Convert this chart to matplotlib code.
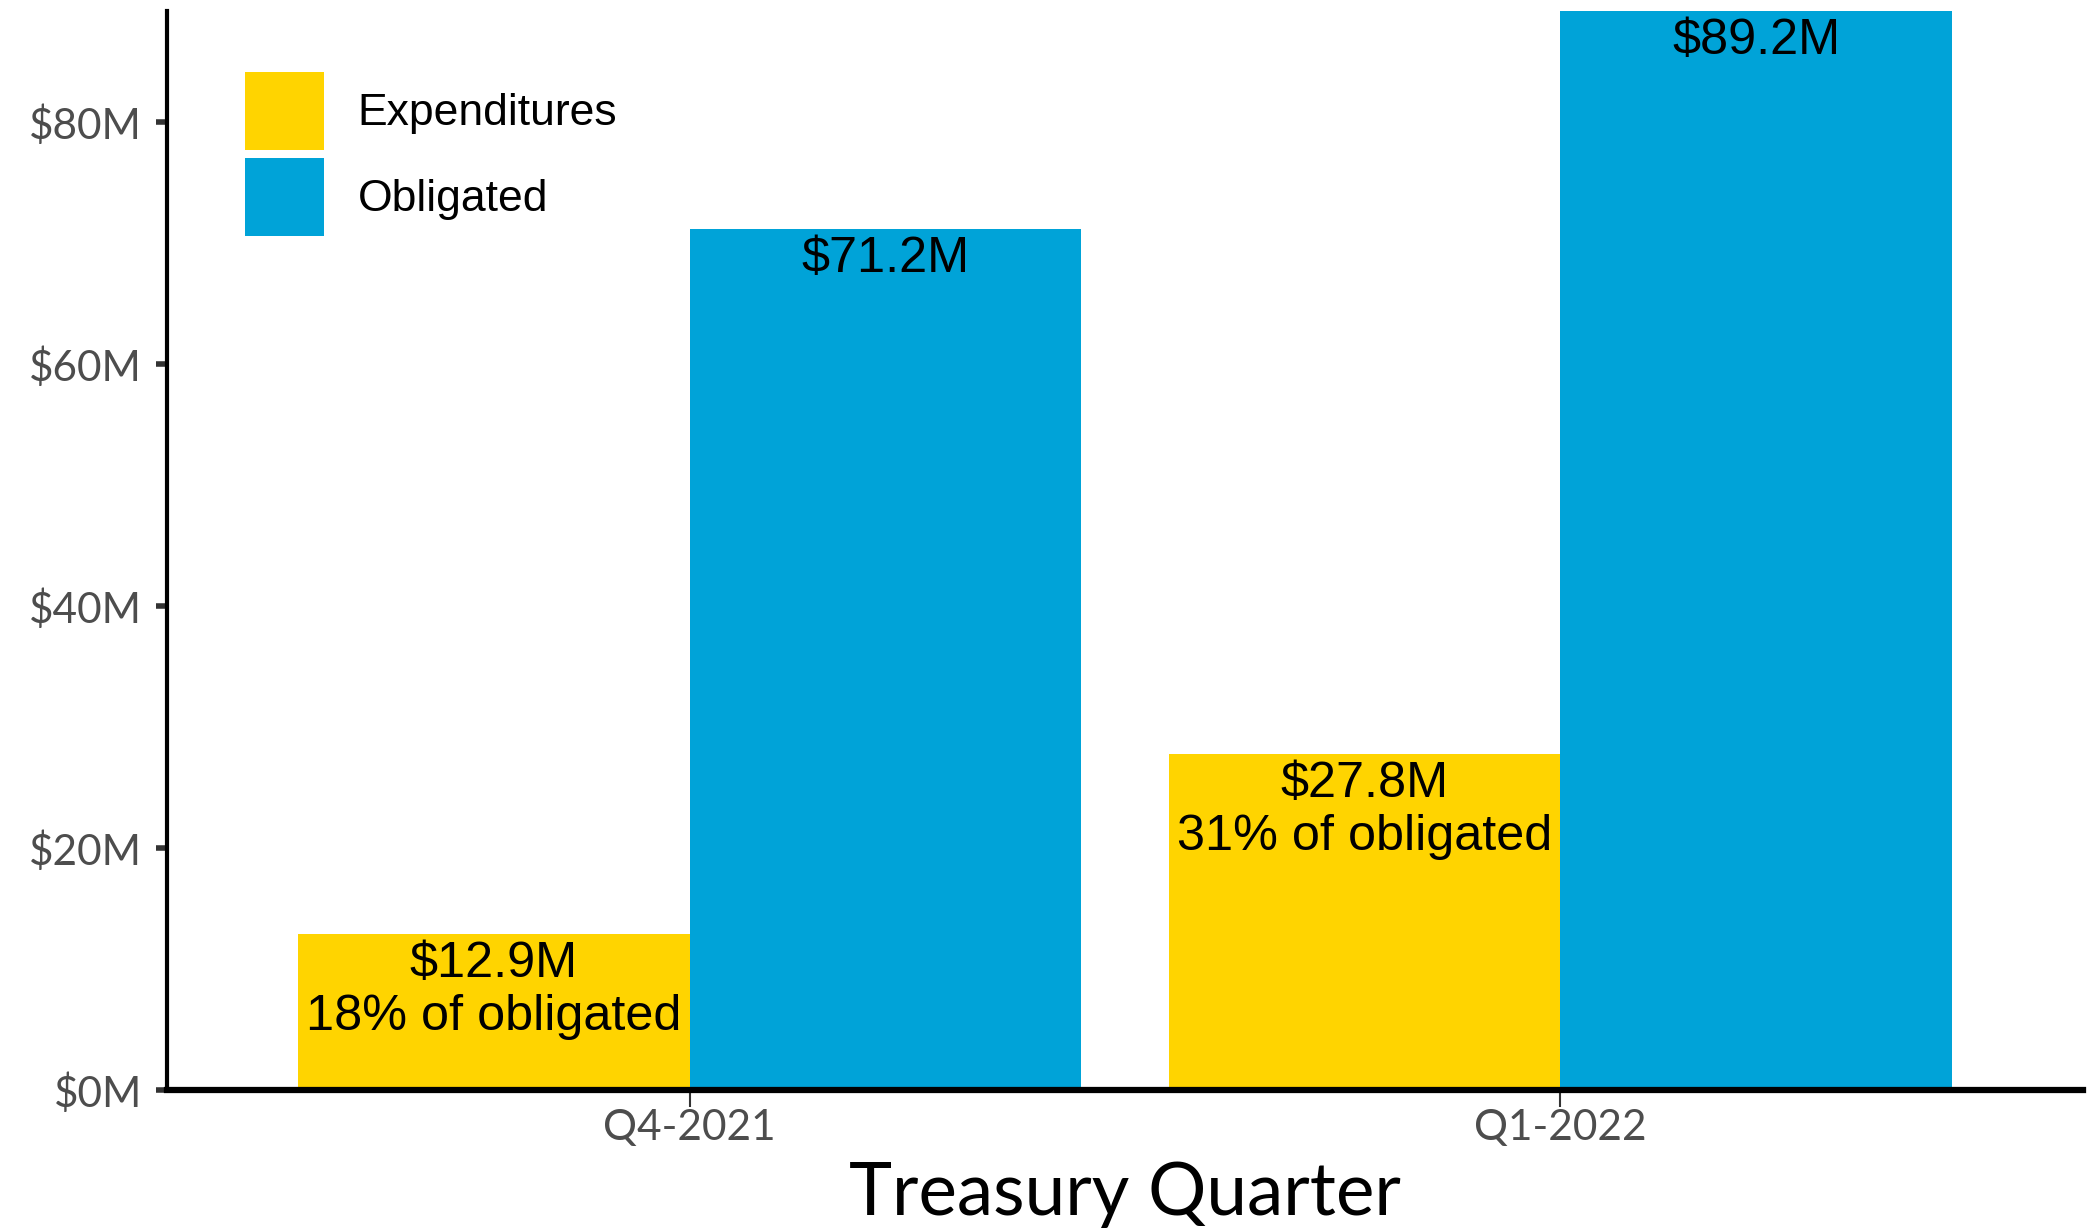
import matplotlib
matplotlib.use("Agg")
import matplotlib.pyplot as plt
import numpy as np

quarters = ["Q4-2021", "Q1-2022"]
series = ["Expenditures", "Obligated"]
expenditures = [12.9, 27.8]
obligated = [71.2, 89.2]
yticks = [0, 20, 40, 60, 80]
colors = {"Expenditures": "#FFD400", "Obligated": "#00A3D8"}

W, H, DPI = 2087, 1229, 100
fig = plt.figure(figsize=(W / DPI, H / DPI), dpi=DPI)
ax = fig.add_axes([167 / W, 1 - 1090 / H, (2083 - 167) / W, (1090 - 11) / H])

x = np.arange(1, len(quarters) + 1)
bw = 0.45
ax.bar(x - bw / 2, expenditures, width=bw, color=colors["Expenditures"], label="Expenditures")
ax.bar(x + bw / 2, obligated, width=bw, color=colors["Obligated"], label="Obligated")

ann_font = dict(family="Liberation Sans", fontsize=36.3, color="black")
for xi, e, o in zip(x, expenditures, obligated):
    pct = round(100 * e / o)
    ax.annotate(f"${e:.1f}M\n{pct}% of obligated", (xi - bw / 2, e),
                xytext=(0, -5), textcoords="offset points", ha="center", va="top",
                linespacing=1.2, **ann_font)
    ax.annotate(f"${o:.1f}M", (xi + bw / 2, o),
                xytext=(0, -5), textcoords="offset points", ha="center", va="top",
                **ann_font)

ax.set_xlim(0.4, 2.6)
ax.set_ylim(0, max(obligated))
ax.set_xticks(x)
ax.set_xticklabels(quarters)
ax.set_yticks(yticks)
ax.set_yticklabels([f"${v}M" for v in yticks])

for s in ["top", "right"]:
    ax.spines[s].set_visible(False)
ax.spines["left"].set_linewidth(3)
ax.spines["bottom"].set_linewidth(4.5)
ax.spines["left"].set_color("black")
ax.spines["bottom"].set_color("black")

ax.tick_params(axis="y", length=8, width=4, color="#333333", pad=10,
               labelsize=30.5, labelcolor="#4D4D4D")
ax.tick_params(axis="x", length=12, width=1.5, color="#333333", pad=2,
               labelsize=30.5, labelcolor="#4D4D4D")
for lab in ax.get_xticklabels() + ax.get_yticklabels():
    lab.set_family("Lato")

ax.set_xlabel("Treasury Quarter", family="Lato", fontsize=52.5, color="black", labelpad=10)

leg = ax.legend(loc="upper left", bbox_to_anchor=((245 - 167) / 1916, (1090 - 72) / 1079),
                frameon=False, borderpad=0, borderaxespad=0,
                prop=dict(family="Liberation Sans", size=32),
                handlelength=1.78, handleheight=2.32, labelspacing=0.18, handletextpad=0.75)

fig.savefig("out.png", dpi=DPI)
